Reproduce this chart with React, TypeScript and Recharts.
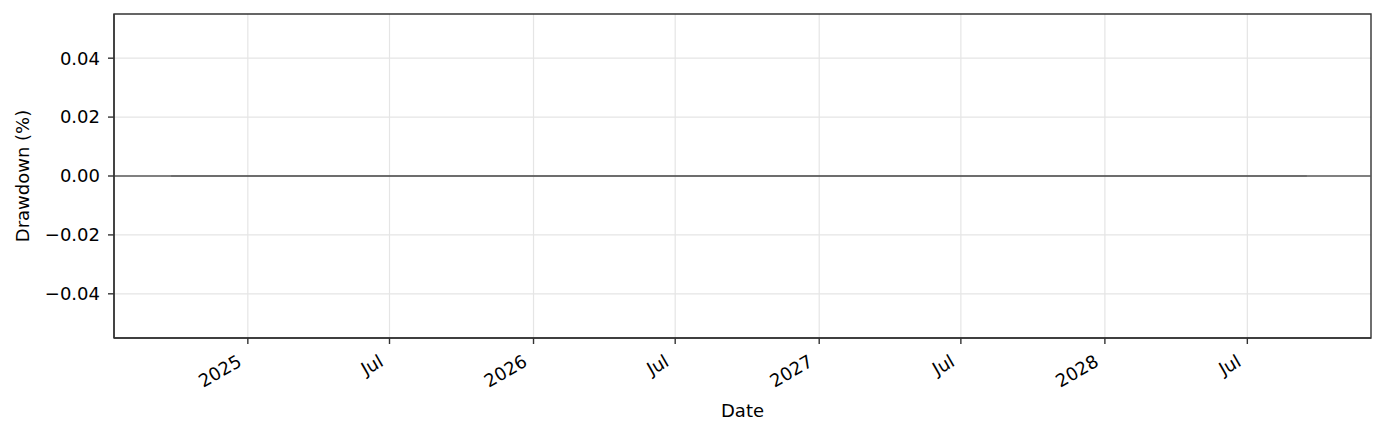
import { ComposedChart, Line, XAxis, YAxis, CartesianGrid, ReferenceLine, ReferenceArea } from "recharts";

// drawdown series (all flat at zero)
const dates = ["2024-09-25", "2025-03-31", "2025-09-30", "2026-03-31", "2026-09-30", "2027-03-31", "2027-09-30", "2028-03-31", "2028-09-15"];
const drawdown = [0, 0, 0, 0, 0, 0, 0, 0, 0];

const xTickDates = ["2025-01-01", "2025-07-01", "2026-01-01", "2026-07-01", "2027-01-01", "2027-07-01", "2028-01-01", "2028-07-01"];
const xTickLabels = ["2025", "Jul", "2026", "Jul", "2027", "Jul", "2028", "Jul"];
const xRange = ["2024-07-14", "2028-12-06"];
const yTicks = [-0.04, -0.02, 0, 0.02, 0.04];
const yRange = [-0.055, 0.055];

const toMs = (d: string) => Date.parse(d + "T00:00:00Z");

const data = dates.map((d, i) => ({ t: toMs(d), dd: drawdown[i] }));
const xTicks = xTickDates.map(toMs);
const xDomain = xRange.map(toMs);

const FONT = "DejaVu Sans, sans-serif";
const FS = 18;

const fmtY = (v: number) => (v < 0 ? "\u2212" : "") + Math.abs(v).toFixed(2);

function DateTick({ x, y, payload }: any) {
  const i = xTicks.indexOf(payload.value);
  return (
    <g transform={`translate(${x - 5},${y + 15})`}>
      <text x={0} y={0} textAnchor="end" transform="rotate(-30)" fontSize={FS} fontFamily={FONT} fill="#000">
        {xTickLabels[i]}
      </text>
    </g>
  );
}

export default function App() {
  return (
    <div style={{ position: "absolute", left: 0, top: 0, width: 1385, height: 434, background: "#fff" }}>
      <ComposedChart width={1385} height={434} data={data} margin={{ top: 14, right: 14, left: 0, bottom: 0 }}>
        <CartesianGrid stroke="#e5e5e5" strokeWidth={1.2} verticalValues={xTicks} horizontalValues={yTicks} />
        <XAxis
          dataKey="t"
          type="number"
          scale="time"
          domain={xDomain}
          ticks={xTicks}
          allowDataOverflow
          height={96}
          tick={<DateTick />}
          tickSize={6}
          tickMargin={6}
          tickLine={{ stroke: "#333", strokeWidth: 1.4 }}
          axisLine={{ stroke: "#333", strokeWidth: 1.4 }}
          label={{ value: "Date", position: "insideBottom", offset: 17, fontSize: FS, fontFamily: FONT, fill: "#000" }}
        />
        <YAxis
          type="number"
          domain={yRange}
          ticks={yTicks}
          allowDataOverflow
          width={114}
          tickFormatter={fmtY}
          tick={{ fontSize: FS, fontFamily: FONT, fill: "#000" }}
          tickSize={6}
          tickMargin={8}
          tickLine={{ stroke: "#333", strokeWidth: 1.4 }}
          axisLine={{ stroke: "#333", strokeWidth: 1.4 }}
          label={{ value: "Drawdown (%)", angle: -90, position: "insideLeft", offset: 23, style: { textAnchor: "middle" }, fontSize: FS, fontFamily: FONT, fill: "#000" }}
        />
        <Line dataKey="dd" stroke="#5a5a5a" strokeWidth={1.2} dot={false} isAnimationActive={false} />
        <ReferenceLine y={0} stroke="#5a5a5a" strokeWidth={1.3} />
        <ReferenceArea x1={xDomain[0]} x2={xDomain[1]} y1={yRange[0]} y2={yRange[1]} fill="none" stroke="#333" strokeWidth={1.4} ifOverflow="visible" />
      </ComposedChart>
    </div>
  );
}
